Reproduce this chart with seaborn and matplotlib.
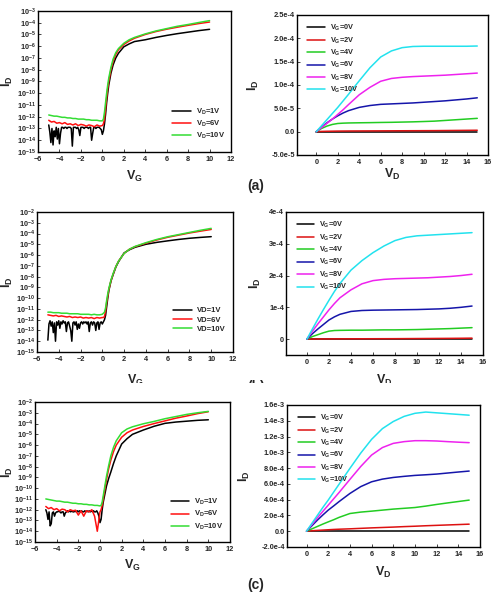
import numpy as np
import pandas as pd
import seaborn as sns
import matplotlib
matplotlib.use("Agg")
import matplotlib.pyplot as plt
from matplotlib.patches import Rectangle
from matplotlib.ticker import FixedLocator, FixedFormatter, NullLocator, MultipleLocator

# ---------------- transfer curves: log10(I_D) vs V_G ----------------
VG_FINE = np.round(np.arange(-5.0, 0.05, 0.1), 1)      # off-state grid for the noisy 1V trace
VG_COARSE = np.arange(-5.0, 0.01, 0.25)                 # off-state grid for 6V / 10V traces
VG_ON = [0.1, 0.2, 0.3, 0.4, 0.5, 0.6, 0.8, 1.0, 1.25, 1.5, 2, 2.5, 3, 4, 5, 6, 7, 8, 9, 10]

# panel (a)
A_BLACK_OFF = [-12.7, -13.3, -14.2, -13.0, -14.4, -13.2, -13.7, -12.9, -13.9, -13.0,
               -14.3, -13.4, -12.9, -12.9, -13.0, -12.9, -12.9, -13.0, -12.9, -12.9,
               -12.9, -13.0, -14.5, -12.9, -12.9, -12.9, -13.0, -12.9, -13.1, -13.6,
               -12.9, -12.9, -12.9, -13.0, -12.9, -12.9, -12.9, -13.0, -12.9, -12.9,
               -14.0, -13.4, -12.9, -12.9, -13.0, -12.9, -12.9, -12.9, -13.0, -13.1,
               -13.5]
A_RED_OFF = [-12.3, -12.45, -12.4, -12.55, -12.5, -12.6, -12.5, -12.65, -12.6, -12.7, -12.6,
             -12.75, -12.65, -12.7, -12.8, -12.7, -12.75, -12.85, -12.7, -12.8, -12.75]
A_GREEN_OFF = [-11.85, -11.9, -11.95, -11.95, -12.0, -12.05, -12.05, -12.1, -12.1, -12.15, -12.15,
               -12.2, -12.2, -12.2, -12.25, -12.25, -12.3, -12.3, -12.3, -12.35, -12.35]
A_BLACK_ON = [-13.2, -12.6, -11.8, -10.8, -10.0, -9.3, -8.3, -7.6, -7.0, -6.6,
              -6.05, -5.8, -5.6, -5.45, -5.25, -5.08, -4.93, -4.8, -4.67, -4.56]
A_RED_ON = [-12.6, -12.2, -11.3, -10.4, -9.6, -9.0, -8.0, -7.3, -6.7, -6.3,
            -5.85, -5.55, -5.32, -5.0, -4.75, -4.55, -4.38, -4.22, -4.07, -3.94]
A_GREEN_ON = [-12.2, -11.6, -10.8, -10.0, -9.3, -8.7, -7.8, -7.1, -6.55, -6.2,
              -5.75, -5.45, -5.25, -4.95, -4.7, -4.5, -4.3, -4.15, -3.98, -3.82]

# panel (b)
B_BLACK_OFF = [-13.9, -12.4, -12.1, -12.6, -12.2, -13.2, -12.3, -14.0, -12.2, -12.5,
               -12.1, -12.8, -12.2, -12.4, -12.1, -12.3, -12.2, -13.1, -12.3, -12.2,
               -12.6, -13.0, -14.0, -12.3, -12.2, -12.5, -12.2, -12.9, -12.4, -12.8,
               -12.3, -12.2, -12.4, -12.2, -12.3, -12.2, -12.4, -12.2, -13.1, -12.3,
               -12.2, -12.5, -12.2, -12.3, -13.0, -12.3, -12.2, -12.9, -12.3, -12.2,
               -12.4]
B_RED_OFF = [-11.55, -11.6, -11.65, -11.6, -11.7, -11.65, -11.7, -11.75, -11.7, -11.8, -11.75,
             -11.8, -11.75, -11.85, -11.8, -11.85, -11.8, -11.9, -11.8, -11.85, -11.8]
B_GREEN_OFF = [-11.3, -11.3, -11.35, -11.35, -11.35, -11.4, -11.4, -11.4, -11.45, -11.45, -11.45,
               -11.45, -11.5, -11.5, -11.5, -11.5, -11.55, -11.5, -11.55, -11.55, -11.5]
B_BLACK_ON = [-12.2, -12.0, -11.6, -10.8, -10.0, -9.3, -8.4, -7.8, -7.1, -6.6,
              -5.8, -5.5, -5.28, -5.0, -4.82, -4.68, -4.55, -4.44, -4.36, -4.29]
B_RED_ON = [-11.8, -11.7, -11.2, -10.4, -9.8, -9.2, -8.35, -7.75, -7.05, -6.55,
            -5.85, -5.45, -5.22, -4.9, -4.6, -4.35, -4.15, -3.95, -3.78, -3.62]
B_GREEN_ON = [-11.4, -11.3, -10.9, -10.2, -9.6, -9.1, -8.3, -7.7, -7.05, -6.55,
              -5.85, -5.45, -5.2, -4.85, -4.55, -4.3, -4.1, -3.9, -3.7, -3.52]

# panel (c)
C_BLACK_OFF = [-12.0, -12.3, -12.9, -12.2, -13.5, -13.3, -12.3, -12.2, -12.6, -12.3,
               -12.2, -12.2, -12.1, -12.2, -12.3, -12.2, -12.2, -12.6, -12.3, -12.2,
               -12.1, -12.2, -12.1, -12.2, -12.1, -12.2, -12.2, -12.1, -12.2, -12.1,
               -12.2, -12.1, -12.2, -12.1, -12.2, -12.2, -12.1, -12.2, -12.1, -12.2,
               -12.1, -12.2, -12.1, -12.2, -12.1, -12.2, -12.2, -12.1, -12.3, -12.6,
               -13.2]
C_RED_OFF = [-11.7, -11.9, -11.8, -12.0, -11.9, -12.1, -11.95, -12.0, -12.2, -12.0, -12.1,
             -12.05, -12.5, -12.1, -12.6, -12.1, -12.2, -12.0, -12.6, -14.0, -12.2]
C_GREEN_OFF = [-11.0, -11.05, -11.1, -11.15, -11.2, -11.2, -11.25, -11.3, -11.3, -11.35, -11.4,
               -11.4, -11.45, -11.45, -11.5, -11.5, -11.55, -11.55, -11.6, -11.6, -11.65]
C_BLACK_ON = [-12.9, -12.0, -11.3, -10.8, -10.3, -9.8, -9.1, -8.5, -7.7, -7.0,
              -5.9, -5.4, -5.0, -4.6, -4.25, -3.98, -3.86, -3.78, -3.7, -3.65]
C_RED_ON = [-12.0, -11.6, -11.0, -10.4, -9.8, -9.2, -8.2, -7.4, -6.6, -6.0,
            -5.27, -4.85, -4.6, -4.27, -4.0, -3.75, -3.5, -3.3, -3.08, -2.9]
C_GREEN_ON = [-11.6, -11.3, -10.7, -10.1, -9.5, -8.9, -7.9, -7.0, -6.2, -5.6,
              -4.85, -4.5, -4.3, -4.02, -3.8, -3.55, -3.35, -3.15, -3.0, -2.87]

# ---------------- output curves: I_D vs V_D ----------------
VD = [0, 0.5, 1, 1.5, 2, 2.5, 3, 4, 5, 6, 7, 8, 9, 10, 11, 12, 13, 14, 15]

# panel (a), units of 1e-5 A
A_OUT = {
    0: [0.0] * 19,
    2: [0, 0.05, 0.08, 0.1, 0.12, 0.13, 0.14, 0.15, 0.16, 0.17, 0.18, 0.19, 0.2, 0.21, 0.22, 0.24, 0.26, 0.28, 0.3],
    4: [0, 0.7, 1.2, 1.55, 1.75, 1.82, 1.86, 1.9, 1.93, 1.97, 2.0, 2.05, 2.1, 2.17, 2.25, 2.4, 2.55, 2.7, 2.85],
    6: [0, 1.0, 1.9, 2.7, 3.4, 4.0, 4.5, 5.2, 5.6, 5.85, 5.95, 6.05, 6.15, 6.3, 6.45, 6.6, 6.8, 7.0, 7.25],
    8: [0, 0.9, 1.8, 2.7, 3.7, 4.7, 5.8, 7.9, 9.5, 10.8, 11.4, 11.65, 11.8, 11.9, 12.0, 12.1, 12.25, 12.4, 12.55],
    10: [0, 1.3, 2.6, 3.9, 5.2, 6.6, 8.0, 10.9, 13.7, 16.0, 17.3, 18.0, 18.25, 18.3, 18.3, 18.3, 18.3, 18.3, 18.35],
}
# panel (b), units of 1e-4 A
B_OUT = {
    0: [0.0] * 19,
    2: [0, 0.002, 0.004, 0.005, 0.006, 0.007, 0.008, 0.009, 0.01, 0.011, 0.012, 0.013, 0.015, 0.017, 0.019, 0.021, 0.023, 0.026, 0.03],
    4: [0, 0.08, 0.14, 0.2, 0.25, 0.27, 0.275, 0.28, 0.28, 0.285, 0.29, 0.29, 0.295, 0.3, 0.31, 0.32, 0.33, 0.345, 0.36],
    6: [0, 0.17, 0.32, 0.46, 0.6, 0.7, 0.78, 0.87, 0.9, 0.91, 0.915, 0.92, 0.925, 0.93, 0.94, 0.95, 0.97, 1.0, 1.04],
    8: [0, 0.25, 0.48, 0.7, 0.92, 1.12, 1.3, 1.55, 1.74, 1.84, 1.88, 1.9, 1.91, 1.92, 1.93, 1.95, 1.97, 2.0, 2.04],
    10: [0, 0.32, 0.63, 0.93, 1.22, 1.5, 1.75, 2.17, 2.47, 2.72, 2.93, 3.1, 3.2, 3.25, 3.27, 3.29, 3.31, 3.33, 3.35],
}
# panel (c), units of 1e-4 A
C_OUT = {
    0: [0.0] * 19,
    2: [0, 0.06, 0.1, 0.14, 0.18, 0.22, 0.25, 0.3, 0.36, 0.42, 0.47, 0.52, 0.58, 0.63, 0.69, 0.74, 0.79, 0.84, 0.89],
    4: [0, 0.3, 0.6, 0.9, 1.18, 1.45, 1.75, 2.24, 2.42, 2.54, 2.67, 2.8, 2.9, 3.0, 3.18, 3.39, 3.58, 3.76, 3.94],
    6: [0, 0.7, 1.4, 2.05, 2.67, 3.2, 3.75, 4.78, 5.65, 6.26, 6.6, 6.81, 6.95, 7.07, 7.15, 7.24, 7.37, 7.5, 7.62],
    8: [0, 0.85, 1.7, 2.5, 3.3, 4.1, 4.9, 6.56, 8.2, 9.65, 10.6, 11.13, 11.35, 11.47, 11.47, 11.43, 11.35, 11.28, 11.22],
    10: [0, 1.0, 2.0, 3.0, 3.94, 4.95, 5.95, 7.96, 9.9, 11.64, 13.0, 13.9, 14.55, 14.94, 15.1, 15.0, 14.9, 14.8, 14.7],
}

LABELS_D_SUB = [r"V$_{D}$=1V", r"V$_{D}$=6V", r"V$_{D}$=10V"]
LABELS_D_PLAIN = ["VD=1V", "VD=6V", "VD=10V"]
TRANSFER_COLORS = ["#000000", "#ff1010", "#33dd33"]
OUT_COLORS = ["#000000", "#dd1111", "#22cc22", "#1515aa", "#ee22ee", "#22e2ee"]

sns.set_style("ticks", {"xtick.direction": "in", "ytick.direction": "in"})
plt.rcParams.update({
    "font.family": ["Liberation Sans", "DejaVu Sans"],
    "font.weight": "bold",
    "mathtext.fontset": "custom",
    "mathtext.rm": "Liberation Sans:bold",
    "mathtext.it": "Liberation Sans:bold",
    "mathtext.bf": "Liberation Sans:bold",
    "axes.linewidth": 1.0,
    "axes.edgecolor": "black",
    "xtick.major.size": 2, "ytick.major.size": 2,
    "xtick.major.width": 0.6, "ytick.major.width": 0.6,
    "xtick.labelsize": 5.3, "ytick.labelsize": 5.3,
})

fig = plt.figure(figsize=(4.97, 5.97), dpi=100)


def transfer_frame(black, red, green, labels):
    parts = []
    for lab, (off_x, off_y), on_y in zip(labels, [(VG_FINE, black[0]), (VG_COARSE, red[0]), (VG_COARSE, green[0])],
                                          [black[1], red[1], green[1]]):
        x = np.concatenate([off_x, VG_ON])
        y = 10.0 ** np.concatenate([off_y, on_y])
        parts.append(pd.DataFrame({"VG": x, "ID": y, "curve": lab}))
    return pd.concat(parts, ignore_index=True)


def output_frame(curves, unit):
    parts = []
    for vg, vals in curves.items():
        parts.append(pd.DataFrame({"VD": VD, "ID": np.array(vals) * unit, "curve": rf"V$_{{G}}$={vg}V"}))
    return pd.concat(parts, ignore_index=True)


def draw_transfer(rect, df, labels, ytop, xlab_y, ylab_x, leg_anchor):
    ax = fig.add_axes(rect)
    sns.lineplot(data=df, x="VG", y="ID", hue="curve", hue_order=labels, palette=TRANSFER_COLORS,
                 estimator=None, sort=False, lw=1.1, legend=False, ax=ax)
    ax.set_yscale("log")
    ax.set_xlim(-6, 12)
    ax.set_ylim(1e-15, 10.0 ** ytop)
    exps = list(range(-15, ytop + 1))
    ax.yaxis.set_major_locator(FixedLocator([10.0 ** e for e in exps]))
    ax.yaxis.set_major_formatter(FixedFormatter([rf"$10^{{{e}}}$" for e in exps]))
    ax.yaxis.set_minor_locator(NullLocator())
    ax.xaxis.set_major_locator(MultipleLocator(2))
    ax.tick_params(axis="x", pad=3)
    ax.tick_params(axis="y", pad=1.5)
    ax.set_xlabel(r"V$_{G}$", fontsize=9, fontweight="bold")
    ax.set_ylabel(r"I$_{D}$", fontsize=9, fontweight="bold")
    ax.xaxis.set_label_coords(0.5, xlab_y)
    ax.yaxis.set_label_coords(ylab_x, 0.5)
    ax.legend(ax.get_lines()[:3], labels, loc="upper left", bbox_to_anchor=leg_anchor, frameon=False,
              prop={"size": 5.5, "weight": "bold"}, handlelength=2.4, labelspacing=0.25, handletextpad=0.7)
    return ax


def draw_output(rect, df, ylim, yticks, yticklabels, xmin, xlab_y, ylab_x):
    ax = fig.add_axes(rect)
    labels = list(dict.fromkeys(df["curve"]))
    sns.lineplot(data=df, x="VD", y="ID", hue="curve", hue_order=labels, palette=OUT_COLORS,
                 estimator=None, sort=False, lw=1.1, legend=False, ax=ax)
    ax.set_xlim(xmin, 16)
    ax.set_ylim(*ylim)
    ax.set_xticks(range(0, 17, 2))
    ax.set_yticks(yticks)
    ax.set_yticklabels(yticklabels)
    ax.tick_params(axis="x", pad=3)
    ax.tick_params(axis="y", pad=1.5)
    ax.set_xlabel(r"V$_{D}$", fontsize=9, fontweight="bold")
    ax.set_ylabel(r"I$_{D}$", fontsize=9, fontweight="bold")
    ax.xaxis.set_label_coords(0.5, xlab_y)
    ax.yaxis.set_label_coords(ylab_x, 0.5)
    ax.legend(ax.get_lines()[:6], labels, loc="upper left", bbox_to_anchor=(0.02, 0.99), frameon=False,
              prop={"size": 5.3, "weight": "bold"}, handlelength=2.4, labelspacing=0.3, handletextpad=0.6)
    return ax


# (a)
draw_transfer([0.0765, 0.7454, 0.3883, 0.2362],
              transfer_frame((A_BLACK_OFF, A_BLACK_ON), (A_RED_OFF, A_RED_ON), (A_GREEN_OFF, A_GREEN_ON), LABELS_D_SUB),
              LABELS_D_SUB, -3, -0.12, -0.12, (0.66, 0.37))
draw_output([0.5976, 0.7404, 0.3843, 0.2345], output_frame(A_OUT, 1e-5),
            (-5e-5, 2.5e-4), [-5e-5, 0, 5e-5, 1e-4, 1.5e-4, 2e-4, 2.5e-4],
            ["-5.0e-5", "0.0", "5.0e-5", "1.0e-4", "1.5e-4", "2.0e-4", "2.5e-4"], -1.8, -0.086, -0.19)
# (b)
draw_transfer([0.0744, 0.4104, 0.3944, 0.2345],
              transfer_frame((B_BLACK_OFF, B_BLACK_ON), (B_RED_OFF, B_RED_ON), (B_GREEN_OFF, B_GREEN_ON), LABELS_D_PLAIN),
              LABELS_D_PLAIN, -2, -0.15, -0.11, (0.66, 0.37))
draw_output([0.5755, 0.4054, 0.3964, 0.2395], output_frame(B_OUT, 1e-4),
            (-5e-5, 4e-4), [0, 1e-4, 2e-4, 3e-4, 4e-4],
            ["0", "1e-4", "2e-4", "3e-4", "4e-4"], -1.9, -0.126, -0.117)
# (c)
draw_transfer([0.0704, 0.0921, 0.3924, 0.2345],
              transfer_frame((C_BLACK_OFF, C_BLACK_ON), (C_RED_OFF, C_RED_ON), (C_GREEN_OFF, C_GREEN_ON), LABELS_D_SUB),
              LABELS_D_SUB, -2, -0.114, -0.10, (0.66, 0.37))
draw_output([0.5775, 0.0838, 0.3883, 0.2379], output_frame(C_OUT, 1e-4),
            (-2e-4, 1.6e-3), [-2e-4, 0, 2e-4, 4e-4, 6e-4, 8e-4, 1e-3, 1.2e-3, 1.4e-3, 1.6e-3],
            ["-2.0e-4", "0.0", "2.0e-4", "4.0e-4", "6.0e-4", "8.0e-4", "1.0e-3", "1.2e-3", "1.4e-3", "1.6e-3"],
            -1.8, -0.127, -0.18)

fig.text(0.515, 0.688, "(a)", fontsize=10, fontweight="bold", ha="center", va="center")
fig.text(0.515, 0.352, "(b)", fontsize=10, fontweight="bold", ha="center", va="center")
fig.text(0.515, 0.020, "(c)", fontsize=10, fontweight="bold", ha="center", va="center")

# the source figure is cropped just below panel (b)
fig.add_artist(Rectangle((0, (597 - 398) / 597), 1, 15 / 597, transform=fig.transFigure,
                         facecolor="white", edgecolor="none", zorder=10))

fig.savefig("out.png", dpi=100, facecolor="white")
